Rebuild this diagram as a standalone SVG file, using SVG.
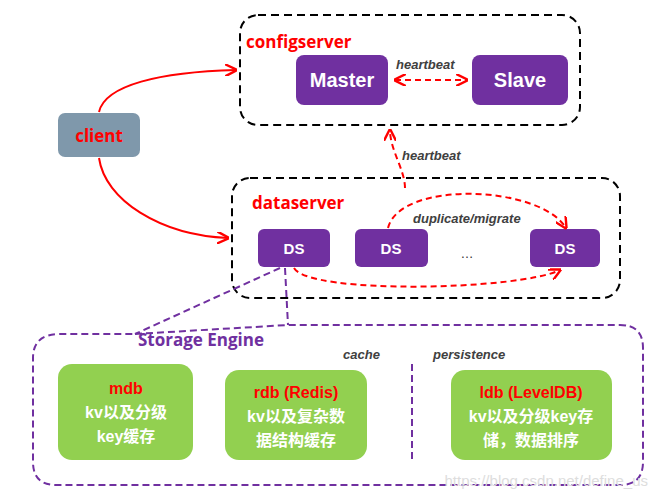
<svg xmlns="http://www.w3.org/2000/svg" width="662" height="494" viewBox="0 0 662 494">
<style>
.box{fill:none;stroke:#000;stroke-width:2;stroke-dasharray:8,5}
.pur{fill:#7030a0}
.wt{fill:#fff;font-family:"Liberation Sans",Arial,sans-serif;font-weight:bold;text-anchor:middle}
.lbl{fill:#ff0000;font-family:"Open Sans","Liberation Sans",sans-serif;font-weight:bold;font-size:17px}
.it{fill:#404040;font-family:"Liberation Sans",sans-serif;font-weight:bold;font-style:italic;font-size:13px}
.grn{fill:#92d050}
.cj{fill:#fff;font-family:"Liberation Sans","Noto Sans CJK SC",sans-serif;font-weight:bold;font-size:16px;text-anchor:middle}
.rt{fill:#ff0000;font-family:"Liberation Sans",sans-serif;font-weight:bold;font-size:16px;text-anchor:middle}
.rl{fill:none;stroke:#ff0000;stroke-width:2}
.rd{fill:none;stroke:#ff0000;stroke-width:2;stroke-dasharray:6,4}
.pd{fill:none;stroke:#7030a0;stroke-width:2;stroke-dasharray:7,4}
</style>
<defs>
<marker id="a" viewBox="0 0 10 10" refX="9" refY="5" markerWidth="6" markerHeight="6" orient="auto-start-reverse"><path d="M0,0L10,5L0,10" fill="none" stroke="#ff0000" stroke-width="2"/></marker>
</defs>
<rect x="0" y="0" width="662" height="494" fill="#fff"/>
<g id="configserver"><rect class="box" x="240" y="15" width="340" height="110" rx="18"/><text class="lbl" x="246" y="48">configserver</text></g>
<g id="master"><rect class="pur" x="296" y="55" width="92" height="50" rx="8"/><text class="wt" x="342" y="87" font-size="20" font-weight="normal">Master</text></g>
<g id="slave"><rect class="pur" x="472" y="55" width="96" height="50" rx="8"/><text class="wt" x="520" y="87" font-size="20" font-weight="normal">Slave</text></g>
<g id="client"><rect x="58" y="113" width="82" height="44" rx="7" fill="#7f98ab"/><text x="99" y="142" text-anchor="middle" class="lbl" font-size="18">client</text></g>
<g id="dataserver"><rect class="box" x="232" y="178" width="388" height="120" rx="18"/><text class="lbl" x="252" y="209">dataserver</text></g>
<g id="ds1"><rect class="pur" x="258" y="229" width="72" height="38" rx="6"/><text class="wt" x="294" y="254" font-size="15">DS</text></g>
<g id="ds2"><rect class="pur" x="355" y="229" width="73" height="38" rx="6"/><text class="wt" x="391" y="254" font-size="15">DS</text></g>
<text x="467" y="258" font-family="Liberation Sans,sans-serif" font-size="13" text-anchor="middle" fill="#333">…</text>
<g id="ds3"><rect class="pur" x="530" y="229" width="70" height="38" rx="6"/><text class="wt" x="565" y="254" font-size="15">DS</text></g>
<g id="storage"><path class="pd" d="M135,334 L288,325 L620,325 Q643,325 643,348 L643,462 Q643,485 620,485 L56,485 Q33,485 33,462 L33,358 Q33,334 60,334 Z"/><text x="138" y="346" font-family="Open Sans,Liberation Sans,sans-serif" font-weight="bold" font-size="17" fill="#7030a0">Storage Engine</text>
<text class="it" x="343" y="359" font-weight="normal">cache</text><text class="it" x="433" y="359" font-weight="normal">persistence</text>
<line x1="412" y1="364" x2="412" y2="460" stroke="#7030a0" stroke-width="2" stroke-dasharray="7,4"/></g>
<g id="mdb"><rect class="grn" x="58" y="364" width="135" height="96" rx="14"/><text class="rt" x="126" y="394">mdb</text><text class="cj" x="126" y="418">kv以及分级</text><text class="cj" x="126" y="442">key缓存</text></g>
<g id="rdb"><rect class="grn" x="225" y="370" width="142" height="90" rx="14"/><text class="rt" x="296" y="398">rdb (Redis)</text><text class="cj" x="296" y="422">kv以及复杂数</text><text class="cj" x="296" y="446">据结构缓存</text></g>
<g id="ldb"><rect class="grn" x="451" y="370" width="161" height="90" rx="14"/><text class="rt" x="531" y="398">ldb (LevelDB)</text><text class="cj" x="531" y="422">kv以及分级key存</text><text class="cj" x="531" y="446">储，数据排序</text></g>
<text x="648" y="486" text-anchor="end" font-family="Liberation Sans,sans-serif" font-size="15" fill="#ddd">https://blog.csdn.net/define_us</text>
<g id="connectors">
<path class="rl" d="M99,112 C105,85 160,72 236,70" marker-end="url(#a)"/>
<path class="rl" d="M99,158 C105,200 160,235 228,238" marker-end="url(#a)"/>
<path class="rd" d="M395,80 L467,80" marker-start="url(#a)" marker-end="url(#a)"/>
<text class="it" x="396" y="69">heartbeat</text>
<path class="rd" d="M405,188 C405,170 390,150 390,130" marker-end="url(#a)"/>
<text class="it" x="402" y="160">heartbeat</text>
<path class="rd" d="M388,228 C400,180 540,185 566,228" marker-end="url(#a)"/>
<text class="it" x="413" y="223">duplicate/migrate</text>
<path class="rd" d="M294,268 C310,295 520,290 560,270" marker-end="url(#a)"/>
<path class="pd" d="M280,268 L135,334"/>
<path class="pd" d="M285,268 L288,325"/>
</g>
</svg>
